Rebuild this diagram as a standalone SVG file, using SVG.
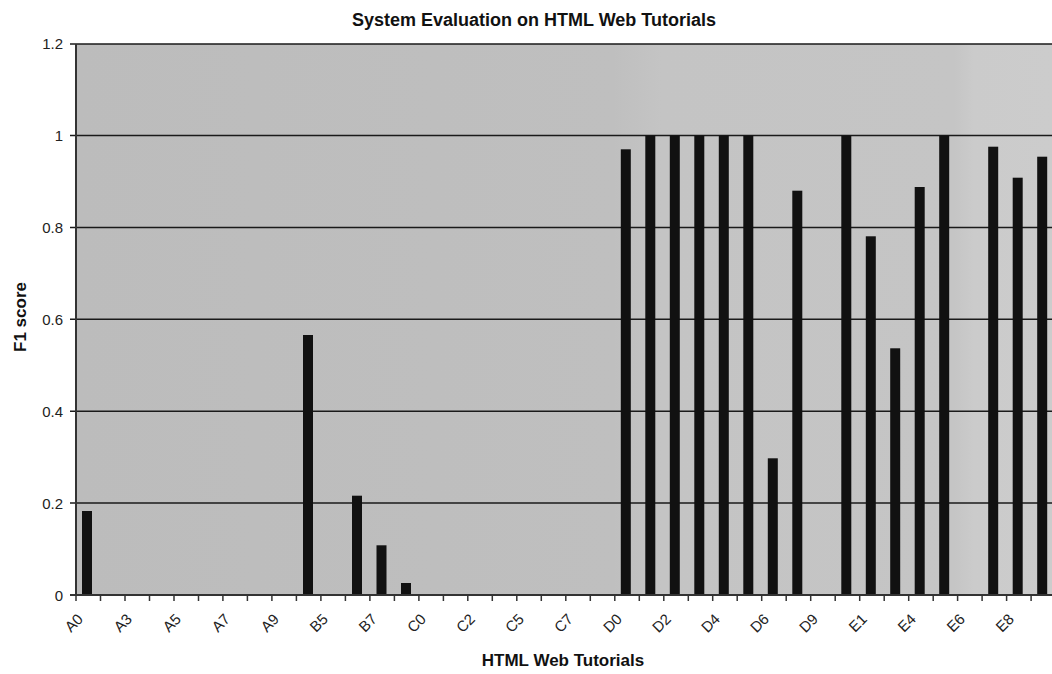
<svg xmlns="http://www.w3.org/2000/svg" width="1052" height="674" viewBox="0 0 1052 674">
  <defs>
    <linearGradient id="plotFill" x1="0" y1="0" x2="1" y2="0">
      <stop offset="0" stop-color="#bcbcbc"/>
      <stop offset="0.55" stop-color="#bfbfbf"/>
      <stop offset="0.6" stop-color="#c4c4c4"/>
      <stop offset="0.9" stop-color="#c5c5c5"/>
      <stop offset="0.92" stop-color="#cbcbcb"/>
      <stop offset="1" stop-color="#cccccc"/>
    </linearGradient>
  </defs>
  <style>
    .title { font-family: "Liberation Sans", Arial, sans-serif; font-weight: bold; fill: #111; }
    .tick { font-family: "Liberation Sans", Arial, sans-serif; font-size: 15px; fill: #222; }
    .cat { font-family: "Liberation Sans", Arial, sans-serif; font-size: 15px; fill: #222; }
    .grid { stroke: #1a1a1a; stroke-width: 1.5; }
    .axis { stroke: #333; stroke-width: 2; }
    .bar { fill: #111; }
  </style>

  <rect width="1052" height="674" fill="#ffffff"/>

  <!-- plot area -->
  <rect id="plot-area" x="76" y="44" width="976" height="551" fill="url(#plotFill)"/>

  <!-- horizontal gridlines at 0.2 .. 1.0 and top border at 1.2 -->
  <g id="gridlines">
    <line class="grid" x1="70" y1="44" x2="1052" y2="44" stroke="#555"/>
    <line class="grid" x1="70" y1="135.5" x2="1052" y2="135.5"/>
    <line class="grid" x1="70" y1="227.4" x2="1052" y2="227.4"/>
    <line class="grid" x1="70" y1="319.3" x2="1052" y2="319.3"/>
    <line class="grid" x1="70" y1="411.2" x2="1052" y2="411.2"/>
    <line class="grid" x1="70" y1="503.1" x2="1052" y2="503.1"/>
  </g>

  <!-- bars -->
  <g id="bars">
    <rect class="bar" x="82" y="511" width="10" height="84"/>
    <rect class="bar" x="303" y="335" width="10" height="260"/>
    <rect class="bar" x="352" y="495.7" width="10" height="99.3"/>
    <rect class="bar" x="376.5" y="545.3" width="10" height="49.7"/>
    <rect class="bar" x="401" y="583" width="10" height="12"/>
    <rect class="bar" x="620.8" y="149.3" width="10" height="445.7"/>
    <rect class="bar" x="645.3" y="135.5" width="10" height="459.5"/>
    <rect class="bar" x="669.8" y="135.5" width="10" height="459.5"/>
    <rect class="bar" x="694.3" y="135.5" width="10" height="459.5"/>
    <rect class="bar" x="718.8" y="135.5" width="10" height="459.5"/>
    <rect class="bar" x="743.3" y="135.5" width="10" height="459.5"/>
    <rect class="bar" x="767.8" y="458.3" width="10" height="136.7"/>
    <rect class="bar" x="792.3" y="190.7" width="10" height="404.3"/>
    <rect class="bar" x="841.3" y="135.5" width="10" height="459.5"/>
    <rect class="bar" x="865.8" y="236.3" width="10" height="358.7"/>
    <rect class="bar" x="890.2" y="348.3" width="10" height="246.7"/>
    <rect class="bar" x="914.7" y="187" width="10" height="408"/>
    <rect class="bar" x="939.2" y="135.5" width="10" height="459.5"/>
    <rect class="bar" x="988.2" y="146.7" width="10" height="448.3"/>
    <rect class="bar" x="1012.7" y="177.7" width="10" height="417.3"/>
    <rect class="bar" x="1037.2" y="156.7" width="10" height="438.3"/>
  </g>

  <!-- axes and tick marks -->
  <g id="axes">
    <line class="axis" x1="76" y1="44" x2="76" y2="595"/>
    <line class="axis" x1="70" y1="595" x2="1052" y2="595"/>
    <path stroke="#333" stroke-width="1.5" fill="none" d="M76 595v6 M100.5 595v6 M125 595v6 M149.5 595v6 M174 595v6 M198.5 595v6 M222.9 595v6 M247.4 595v6 M271.9 595v6 M296.4 595v6 M320.9 595v6 M345.4 595v6 M369.9 595v6 M394.4 595v6 M418.9 595v6 M443.4 595v6 M467.8 595v6 M492.3 595v6 M516.8 595v6 M541.3 595v6 M565.8 595v6 M590.3 595v6 M614.8 595v6 M639.3 595v6 M663.8 595v6 M688.3 595v6 M712.7 595v6 M737.2 595v6 M761.7 595v6 M786.2 595v6 M810.7 595v6 M835.2 595v6 M859.7 595v6 M884.2 595v6 M908.7 595v6 M933.2 595v6 M957.6 595v6 M982.1 595v6 M1006.6 595v6 M1031.1 595v6"/>
  </g>

  <!-- value axis labels -->
  <g id="y-labels" class="tick" text-anchor="end">
    <text x="63" y="49">1.2</text>
    <text x="63" y="141">1</text>
    <text x="63" y="233">0.8</text>
    <text x="63" y="325">0.6</text>
    <text x="63" y="417">0.4</text>
    <text x="63" y="509">0.2</text>
    <text x="63" y="601">0</text>
  </g>

  <!-- category labels, every second category -->
  <g id="x-labels" class="cat" text-anchor="end">
    <text transform="translate(84,620) rotate(-45)">A0</text>
    <text transform="translate(133,620) rotate(-45)">A3</text>
    <text transform="translate(182,620) rotate(-45)">A5</text>
    <text transform="translate(231,620) rotate(-45)">A7</text>
    <text transform="translate(280,620) rotate(-45)">A9</text>
    <text transform="translate(329,620) rotate(-45)">B5</text>
    <text transform="translate(378,620) rotate(-45)">B7</text>
    <text transform="translate(427,620) rotate(-45)">C0</text>
    <text transform="translate(476,620) rotate(-45)">C2</text>
    <text transform="translate(525,620) rotate(-45)">C5</text>
    <text transform="translate(574,620) rotate(-45)">C7</text>
    <text transform="translate(623,620) rotate(-45)">D0</text>
    <text transform="translate(672,620) rotate(-45)">D2</text>
    <text transform="translate(721,620) rotate(-45)">D4</text>
    <text transform="translate(770,620) rotate(-45)">D6</text>
    <text transform="translate(819,620) rotate(-45)">D9</text>
    <text transform="translate(868,620) rotate(-45)">E1</text>
    <text transform="translate(917,620) rotate(-45)">E4</text>
    <text transform="translate(966,620) rotate(-45)">E6</text>
    <text transform="translate(1015,620) rotate(-45)">E8</text>
  </g>

  <!-- titles -->
  <g id="titles">
    <text class="title" x="534" y="26" font-size="18" text-anchor="middle">System Evaluation on HTML Web Tutorials</text>
    <text class="title" x="563" y="666" font-size="17" text-anchor="middle">HTML Web Tutorials</text>
    <text class="title" transform="translate(26,317) rotate(-90)" font-size="17" text-anchor="middle">F1 score</text>
  </g>
</svg>
